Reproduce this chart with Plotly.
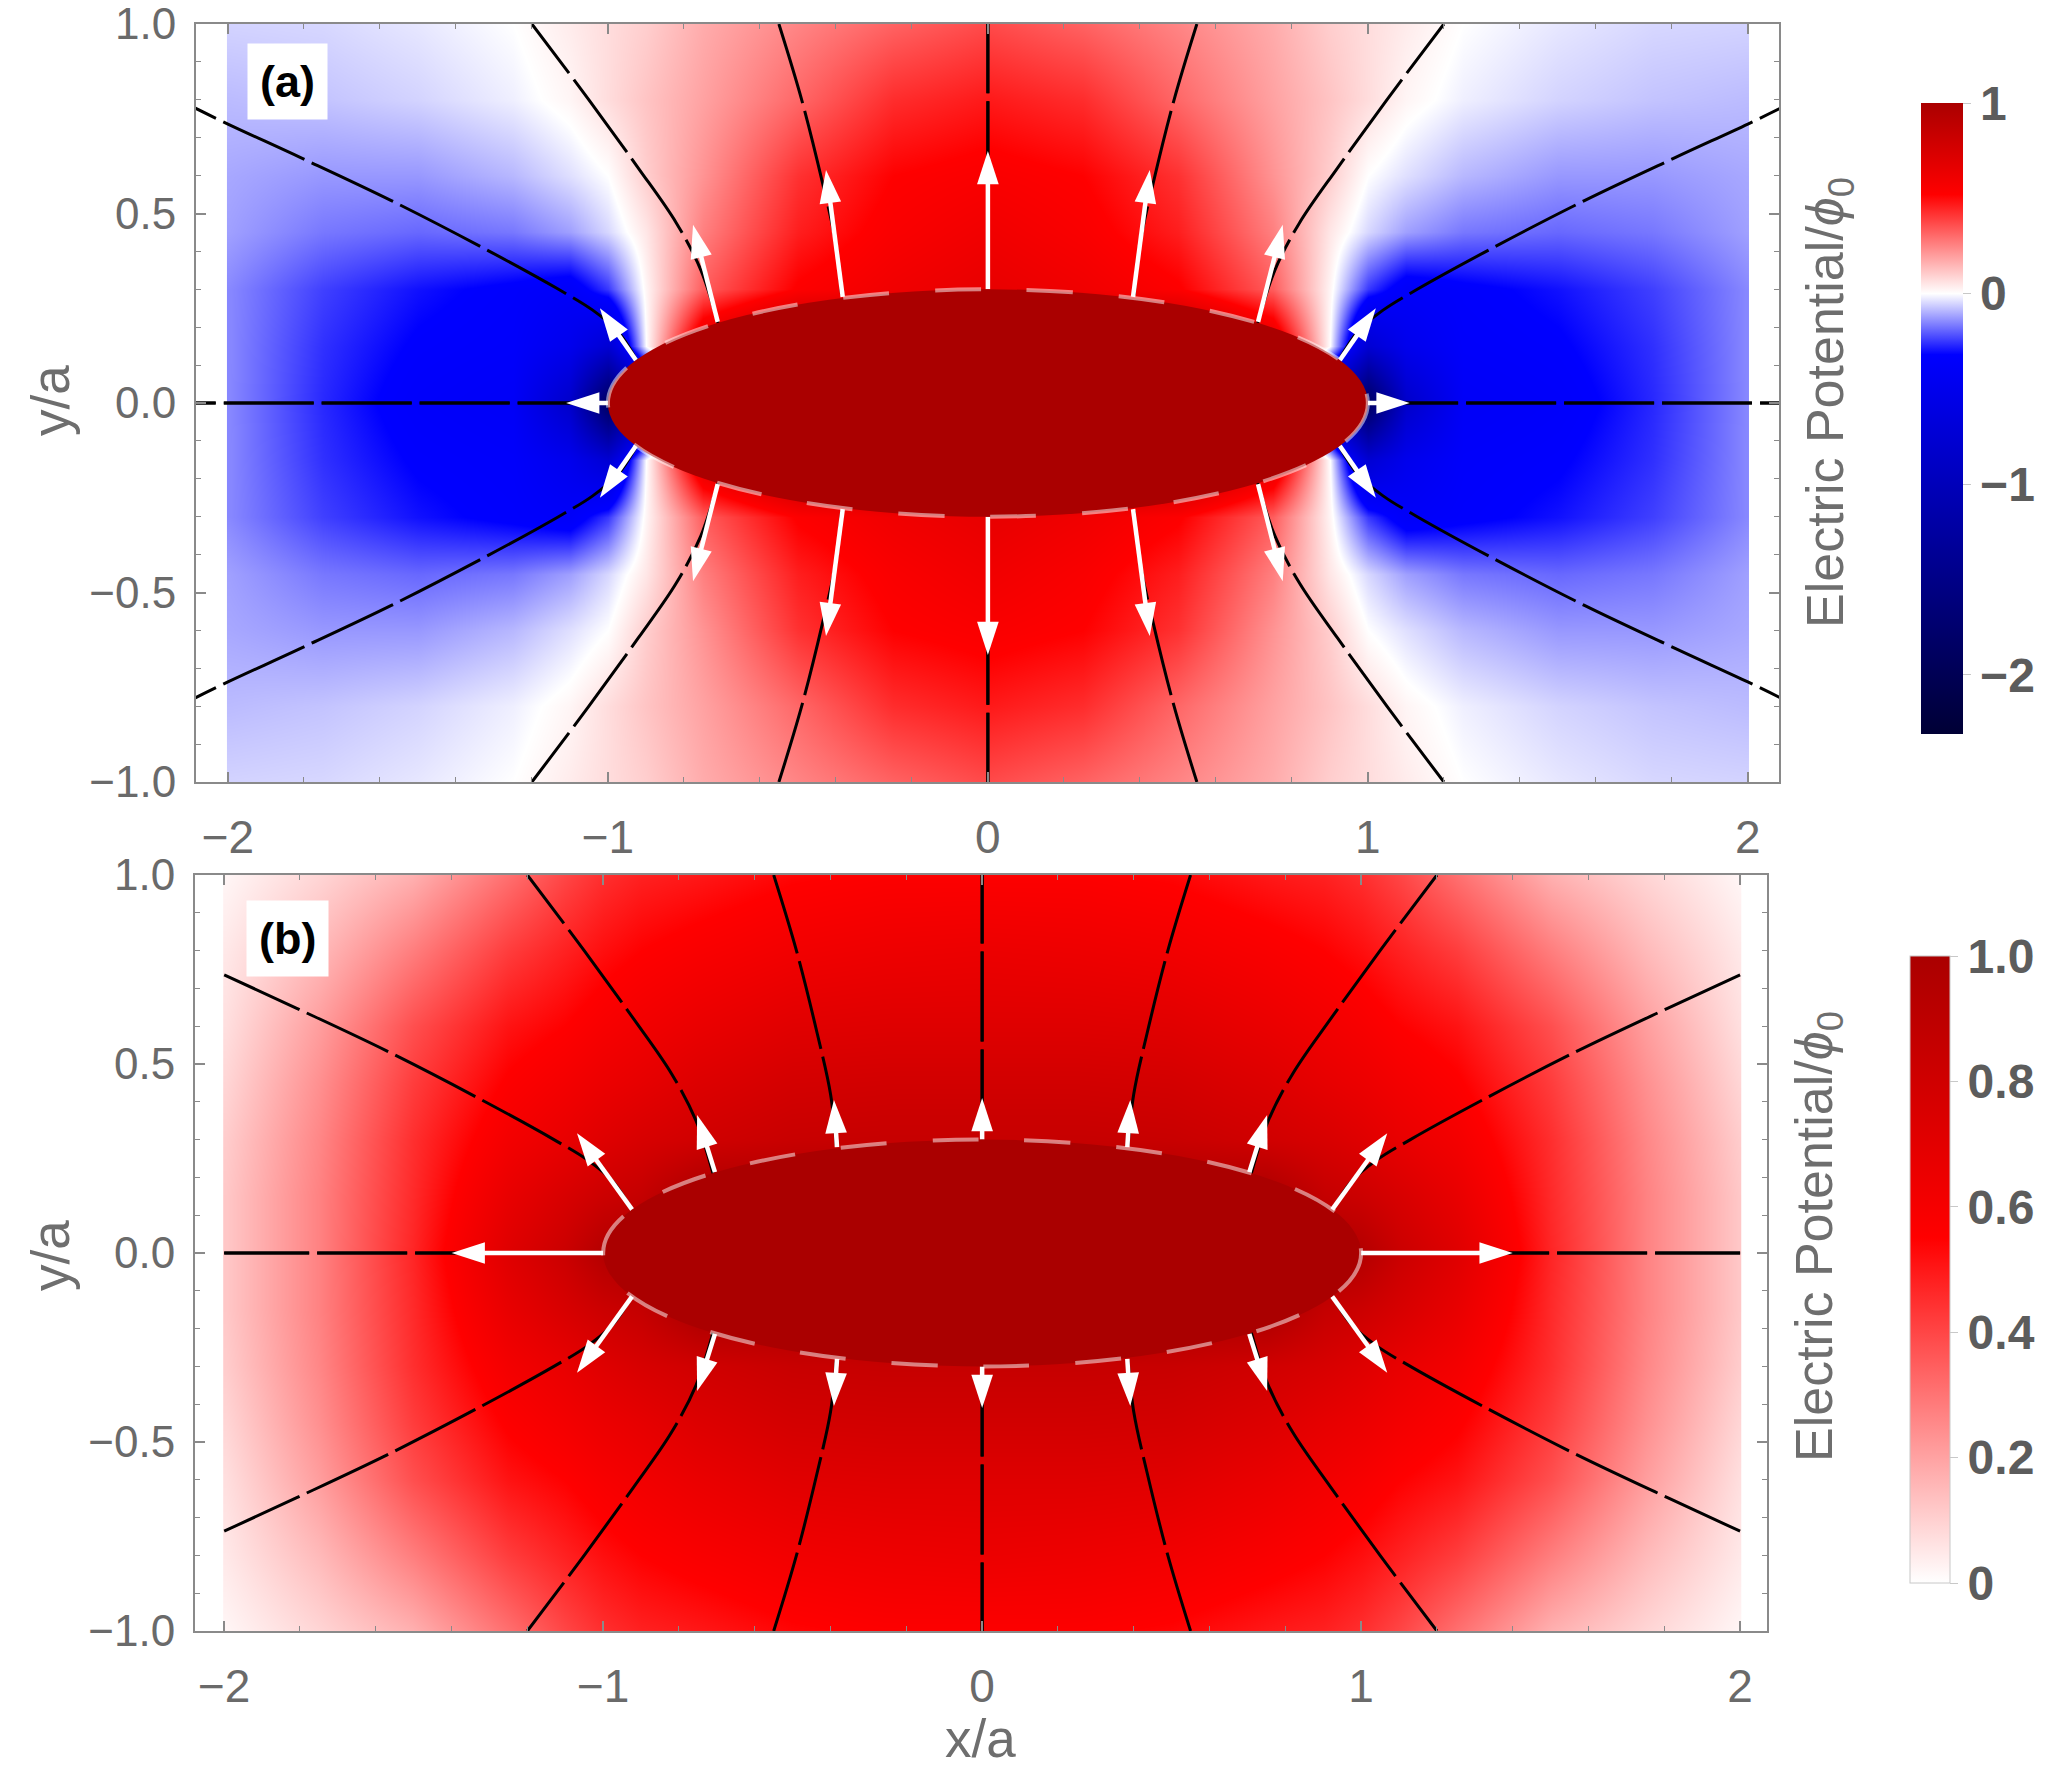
import plotly.graph_objects as go

W, H = 2063, 1771
FONT = "Liberation Sans, Arial, Helvetica, sans-serif"

# ---------------- data (quadrant x>=0, y>=0; field is mirror-symmetric) ----
x_nodes = [0.0, 0.25, 0.5, 0.75, 0.9, 1.0, 1.1, 1.25, 1.5, 1.75, 2.0]
y_nodes = [0.0, 0.15, 0.3, 0.45, 0.6, 0.8, 1.0]

phi_a = [
    [1.00, 1.00, 1.00, 0.60, -1.00, -1.90, -0.85, -0.40, -0.36, -0.27, -0.15],
    [1.00, 1.00, 1.00, 0.70, 0.00, -0.75, -0.50, -0.36, -0.33, -0.26, -0.15],
    [0.65, 0.60, 0.53, 0.33, 0.02, -0.25, -0.38, -0.34, -0.30, -0.24, -0.15],
    [0.60, 0.55, 0.46, 0.26, 0.05, -0.05, -0.12, -0.17, -0.19, -0.17, -0.12],
    [0.55, 0.52, 0.42, 0.22, 0.10, 0.00, -0.04, -0.09, -0.13, -0.13, -0.11],
    [0.47, 0.43, 0.31, 0.19, 0.12, 0.07, 0.02, -0.02, -0.055, -0.075, -0.085],
    [0.37, 0.32, 0.25, 0.17, 0.10, 0.07, 0.04, 0.00, -0.03, -0.05, -0.055],
]

phi_b = [
    [1.00, 1.00, 1.00, 1.00, 1.00, 0.95, 0.83, 0.72, 0.47, 0.27, 0.12],
    [1.00, 1.00, 1.00, 1.00, 0.86, 0.82, 0.76, 0.67, 0.46, 0.27, 0.12],
    [0.85, 0.85, 0.84, 0.80, 0.76, 0.72, 0.67, 0.61, 0.45, 0.26, 0.11],
    [0.79, 0.79, 0.78, 0.73, 0.68, 0.65, 0.61, 0.56, 0.42, 0.24, 0.09],
    [0.72, 0.72, 0.71, 0.66, 0.62, 0.59, 0.55, 0.51, 0.38, 0.21, 0.07],
    [0.65, 0.64, 0.62, 0.58, 0.55, 0.52, 0.48, 0.42, 0.28, 0.15, 0.05],
    [0.56, 0.56, 0.54, 0.50, 0.48, 0.45, 0.40, 0.31, 0.17, 0.09, 0.02],
]

# field lines (first quadrant)
line_A = ([0.385, 0.40, 0.435, 0.49, 0.55], [0.285, 0.42, 0.58, 0.80, 1.0])
line_B = ([0.71, 0.755, 0.82, 0.92, 1.05, 1.20], [0.21, 0.35, 0.475, 0.62, 0.80, 1.0])
line_C = ([0.925, 0.975, 1.04, 1.13, 1.33, 1.57, 1.81, 2.0],
          [0.115, 0.19, 0.245, 0.30, 0.41, 0.534, 0.648, 0.736])
line_C_tail_a = ([2.09], [0.78])
line_D = ([1.0, 2.0], [0.0, 0.0])
line_D_tail_a = ([2.09], [0.0])
line_E = ([0.0, 0.0], [0.3, 1.0])

# field arrows (tail x, tail y, head x, head y), first quadrant
arrows_a = [(0.0, 0.30, 0.0, 0.665), (0.382, 0.28, 0.426, 0.615), (0.711, 0.214, 0.776, 0.47),
            (0.926, 0.113, 1.021, 0.25), (1.0, 0.0, 1.11, 0.0)]
arrows_b = [(0.0, 0.30, 0.0, 0.41), (0.383, 0.28, 0.391, 0.405), (0.705, 0.214, 0.752, 0.365),
            (0.923, 0.114, 1.069, 0.317), (1.0, 0.0, 1.40, 0.0)]

ellipse_semi_axes = (1.0, 0.3)

cb_a_vals = [-2, -1, 0, 1]
cb_a_text = ["\u22122", "\u22121", "0", "1"]
cb_b_vals = [0, 0.2, 0.4, 0.6, 0.8, 1.0]
cb_b_text = ["0", "0.2", "0.4", "0.6", "0.8", "1.0"]
x_ticks = [-2, -1, 0, 1, 2]
x_ticktext = ["\u22122", "\u22121", "0", "1", "2"]
y_ticks = [-1, -0.5, 0, 0.5, 1]
y_ticktext = ["\u22121.0", "\u22120.5", "0.0", "0.5", "1.0"]

# ---------------- build full (mirrored) grids ----------------
EDGE = 0.005
xs_half = x_nodes[:-1] + [x_nodes[-1] - EDGE, x_nodes[-1]]
xs = [-v for v in reversed(xs_half[1:])] + xs_half
ys = [-v for v in reversed(y_nodes[1:])] + y_nodes


def mirror_grid(q):
    rows = []
    for r in q:
        r2 = r[:-1] + [r[-1], r[-1]]
        rows.append(list(reversed(r2[1:])) + r2)
    return list(reversed(rows[1:])) + rows


ZMIN_A, ZMAX_A = -2.31, 1.0


def frac(v):
    return (v - ZMIN_A) / (ZMAX_A - ZMIN_A)


cs_a = [[0.0, "#000035"], [frac(-0.32), "#0000FF"], [frac(0.0), "#FFFFFF"],
        [frac(0.52), "#FF0000"], [1.0, "#AA0000"]]
cs_b = [[0.0, "#FFFFFF"], [0.55, "#FF0000"], [1.0, "#AA0000"]]


def px2paper(px, py):
    return px / W, 1 - py / H


fig = go.Figure()

fig.add_trace(go.Heatmap(
    x=xs, y=ys, z=mirror_grid(phi_a), zmin=ZMIN_A, zmax=ZMAX_A, colorscale=cs_a,
    zsmooth="best", xaxis="x", yaxis="y", hoverinfo="skip",
    colorbar=dict(x=1921 / W, xanchor="left", xpad=0, y=px2paper(0, 418.5)[1], yanchor="middle",
                  ypad=0, lenmode="pixels", len=631, thicknessmode="pixels", thickness=42,
                  outlinewidth=0, tickvals=cb_a_vals, ticktext=cb_a_text, ticks="outside",
                  ticklen=8, tickcolor="#c8c8c8", ticklabeloverflow="allow",
                  tickfont=dict(family=FONT, size=48, color="#5c5c5c", weight="bold")),
))
fig.add_trace(go.Heatmap(
    x=xs, y=ys, z=mirror_grid(phi_b), zmin=0, zmax=1, colorscale=cs_b,
    zsmooth="best", xaxis="x2", yaxis="y2", hoverinfo="skip",
    colorbar=dict(x=1910 / W, xanchor="left", xpad=0, y=px2paper(0, 1269.5)[1], yanchor="middle",
                  ypad=0, lenmode="pixels", len=627, thicknessmode="pixels", thickness=40,
                  outlinewidth=1, outlinecolor="#c8c8c8", tickvals=cb_b_vals, ticktext=cb_b_text,
                  ticks="outside", ticklen=8, tickcolor="#c8c8c8", ticklabeloverflow="allow",
                  tickfont=dict(family=FONT, size=48, color="#5c5c5c", weight="bold")),
))

SIGNS = [(1, 1), (-1, 1), (1, -1), (-1, -1)]


def add_line(xv, yv, xa, ya):
    for sx, sy in SIGNS:
        fig.add_trace(go.Scatter(
            x=[sx * v for v in xv], y=[sy * v for v in yv], mode="lines",
            line=dict(color="black", width=3, dash="90px,8px", shape="spline", smoothing=1.0),
            xaxis=xa, yaxis=ya, showlegend=False, hoverinfo="skip"))


# panel (a) lines
add_line(line_A[0], line_A[1], "x", "y")
add_line(line_B[0], line_B[1], "x", "y")
add_line(line_C[0] + line_C_tail_a[0], line_C[1] + line_C_tail_a[1], "x", "y")
add_line(line_D[0] + line_D_tail_a[0], line_D[1] + line_D_tail_a[1], "x", "y")
add_line(line_E[0], line_E[1], "x", "y")
# panel (b) lines
add_line(line_A[0], line_A[1], "x2", "y2")
add_line(line_B[0], line_B[1], "x2", "y2")
add_line(line_C[0], line_C[1], "x2", "y2")
add_line(line_D[0], line_D[1], "x2", "y2")
add_line(line_E[0], line_E[1], "x2", "y2")


def add_arrows(arrs, xa, ya):
    seen = set()
    for tx, ty, hx, hy in arrs:
        for sx, sy in SIGNS:
            key = (round(sx * tx, 4), round(sy * ty, 4), round(sx * hx, 4), round(sy * hy, 4))
            if key in seen:
                continue
            seen.add(key)
            fig.add_trace(go.Scatter(
                x=[key[0], key[2]], y=[key[1], key[3]], mode="lines+markers",
                line=dict(color="white", width=4.5),
                marker=dict(symbol="arrow", size=[0, 35], angleref="previous", color="white",
                            opacity=1, line=dict(width=0)),
                opacity=1, xaxis=xa, yaxis=ya, showlegend=False, hoverinfo="skip",
                cliponaxis=False))


add_arrows(arrows_a, "x", "y")
add_arrows(arrows_b, "x2", "y2")

shapes = []
for xa, ya in [("x", "y"), ("x2", "y2")]:
    a, b = ellipse_semi_axes
    shapes.append(dict(type="circle", xref=xa, yref=ya, x0=-a, x1=a, y0=-b, y1=b,
                       fillcolor="#AA0000", line=dict(color="rgba(255,255,255,0.5)", width=4,
                                                       dash="46px,46px"), layer="above"))

annotations = []


def text_ann(px, py, text, size, color="#6e6e6e", angle=0, bg=None, pad=0, weight="normal"):
    xp, yp = px2paper(px, py)
    d = dict(x=xp, y=yp, xref="paper", yref="paper", text=text, showarrow=False,
             textangle=angle, xanchor="center", yanchor="middle",
             font=dict(family=FONT, size=size, color=color, weight=weight))
    if bg:
        d.update(bgcolor=bg, borderpad=pad)
    annotations.append(d)


text_ann(287, 82, "(a)", 45, color="black", bg="white", pad=12, weight="bold")
text_ann(287, 938, "(b)", 45, color="black", bg="white", pad=12, weight="bold")
text_ann(50, 401, "y/a", 53, angle=-90)
text_ann(50, 1256, "y/a", 53, angle=-90)
text_ann(980, 1738, "x/a", 53)
text_ann(1829, 403, "Electric Potential/<i>\u03d5</i><sub>0</sub>", 52, angle=-90)
text_ann(1818, 1237, "Electric Potential/<i>\u03d5</i><sub>0</sub>", 52, angle=-90)

axis_common = dict(showgrid=False, zeroline=False, showline=True, linecolor="#8a8a8a", linewidth=2,
                   mirror="allticks", ticks="inside", ticklen=10, tickwidth=1.5, tickcolor="#8a8a8a",
                   ticklabeloverflow="allow")
xfont = dict(family=FONT, size=46, color="#6a6a6a")
yfont = dict(family=FONT, size=44, color="#6a6a6a")
minor_x = dict(ticks="inside", ticklen=5, dtick=0.2, tick0=0, tickcolor="#8a8a8a", tickwidth=1.2)
minor_y = dict(ticks="inside", ticklen=5, dtick=0.1, tick0=0, tickcolor="#8a8a8a", tickwidth=1.2)

fig.update_layout(
    width=W, height=H, margin=dict(l=0, r=0, t=0, b=0, autoexpand=False),
    paper_bgcolor="white", plot_bgcolor="white",
    xaxis=dict(domain=[196 / W, 1779 / W], range=[-2.084, 2.082], anchor="y",
               tickvals=x_ticks, ticktext=x_ticktext, ticklabelstandoff=14, minor=minor_x,
               tickfont=xfont, **axis_common),
    yaxis=dict(domain=[1 - 782 / H, 1 - 24 / H], range=[-1, 1], anchor="x",
               tickvals=y_ticks, ticktext=y_ticktext, ticklabelstandoff=9, minor=minor_y,
               tickfont=yfont, **axis_common),
    xaxis2=dict(domain=[195 / W, 1767 / W], range=[-2.077, 2.071], anchor="y2",
                tickvals=x_ticks, ticktext=x_ticktext, ticklabelstandoff=14, minor=minor_x,
                tickfont=xfont, **axis_common),
    yaxis2=dict(domain=[1 - 1631 / H, 1 - 875 / H], range=[-1, 1], anchor="x2",
                tickvals=y_ticks, ticktext=y_ticktext, ticklabelstandoff=9, minor=minor_y,
                tickfont=yfont, **axis_common),
    shapes=shapes, annotations=annotations,
)

fig.write_html("out.html")
